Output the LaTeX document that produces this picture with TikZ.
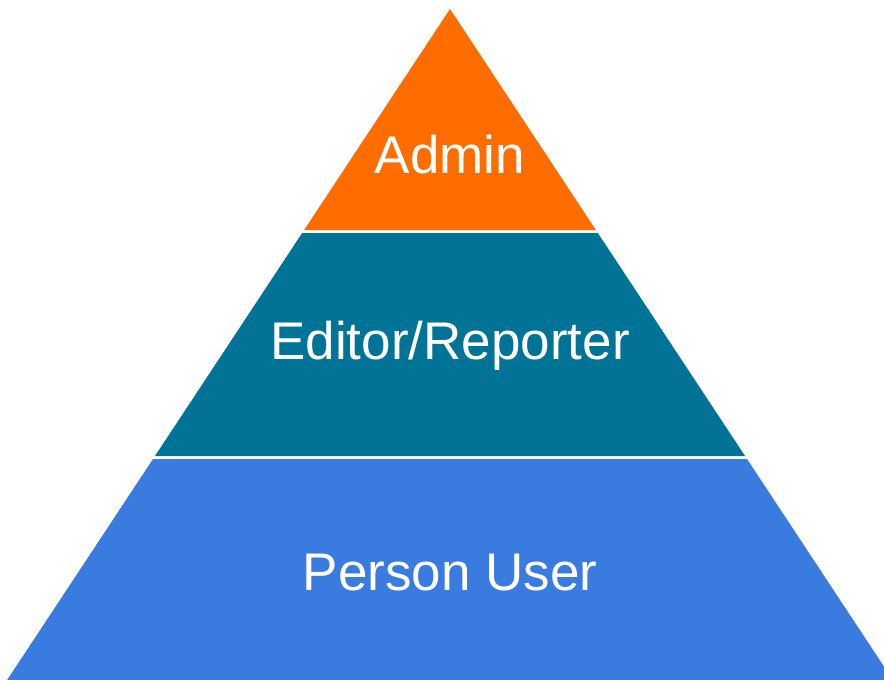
\documentclass[tikz,border=0pt]{standalone}
\usepackage{fontspec}
\setmainfont{Liberation Sans}
\usetikzlibrary{calc}
\definecolor{adminorange}{RGB}{255,109,0}
\definecolor{editorteal}{RGB}{0,115,150}
\definecolor{userblue}{RGB}{58,123,224}

\begin{document}
\begin{tikzpicture}[x=1pt, y=-1pt,
    layerlabel/.style = {text=white, anchor=base, font=\fontsize{53}{63}\selectfont}]
    \def\slope{0.66}
    \def\apexX{450}
    \def\apexY{9}
    \def\cutA{230}
    \def\cutB{456}
    \def\gap{3}
    \def\baseY{680}

    \useasboundingbox (0,0) rectangle (884,680);
    \clip (0,0) rectangle (884,680);

    \coordinate (T) at (\apexX,\apexY);
    %layer Admin
    \fill[adminorange] (T) -- ({\apexX-\slope*(\cutA-\apexY)},\cutA) coordinate (A1)
        -- ({\apexX+\slope*(\cutA-\apexY)},\cutA) coordinate (A2) -- cycle;
    %layer Editor/Reporter
    \fill[editorteal] ({\apexX-\slope*(\cutA+\gap-\apexY)},\cutA+\gap) coordinate (B1)
        -- ({\apexX+\slope*(\cutA+\gap-\apexY)},\cutA+\gap) coordinate (B2)
        -- ({\apexX+\slope*(\cutB-\apexY)},\cutB) coordinate (B3)
        -- ({\apexX-\slope*(\cutB-\apexY)},\cutB) coordinate (B4) -- cycle;
    %layer Person User
    \fill[userblue] ({\apexX-\slope*(\cutB+\gap-\apexY)},\cutB+\gap) coordinate (C1)
        -- ({\apexX+\slope*(\cutB+\gap-\apexY)},\cutB+\gap) coordinate (C2)
        -- ({\apexX+\slope*(\baseY-\apexY)},\baseY) coordinate (C3)
        -- ({\apexX-\slope*(\baseY-\apexY)},\baseY) coordinate (C4) -- cycle;

    %labels
    \node (admin) at (\apexX,173) [layerlabel] {Admin};
    \node (editor) at (\apexX,359) [layerlabel] {Editor/Reporter};
    \node (user) at (\apexX,590) [layerlabel] {Person User};
\end{tikzpicture}
\end{document}
